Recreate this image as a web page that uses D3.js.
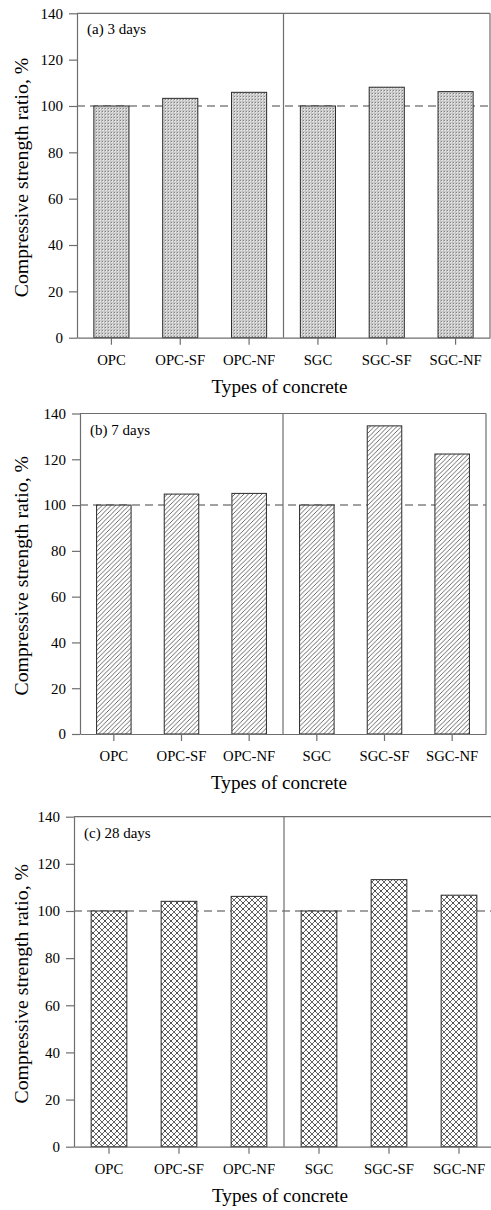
<!DOCTYPE html>
<html>
<head>
<meta charset="utf-8">
<script src="https://cdn.jsdelivr.net/npm/d3@7"></script>
<style>
  html, body { margin: 0; padding: 0; background: #fff; }
  svg { display: block; }
  text { font-family: "Liberation Serif", "Times New Roman", serif; fill: #000; }
</style>
</head>
<body>
<svg id="chart" width="491" height="1210"></svg>
<script>
// ---- data ----
const categories = ["OPC", "OPC-SF", "OPC-NF", "SGC", "SGC-SF", "SGC-NF"];
const ratio3d  = [100, 103.3, 105.9, 100, 108.1, 106.2];
const ratio7d  = [100, 104.8, 105.1, 100, 134.6, 122.3];
const ratio28d = [100, 104.1, 106.2, 100, 113.3, 106.7];
const yTicks = [0, 20, 40, 60, 80, 100, 120, 140];
const panelLabels = ["(a) 3 days", "(b) 7 days", "(c) 28 days"];
const referenceLine = 100;
const yMax = 140;

// ---- layout ----
const panels = [
  { values: ratio3d,  label: panelLabels[0], left: 77, right: 490, top: 13.3,  bottom: 337.7, pat: "patDots" },
  { values: ratio7d,  label: panelLabels[1], left: 80, right: 486, top: 413.5, bottom: 734,   pat: "patHatch" },
  { values: ratio28d, label: panelLabels[2], left: 74, right: 494, top: 816.7, bottom: 1146.7, pat: "patCross" }
];

const svg = d3.select("#chart");
const defs = svg.append("defs");

// stipple pattern (a)
const p1 = defs.append("pattern").attr("id", "patDots").attr("patternUnits", "userSpaceOnUse")
  .attr("width", 3).attr("height", 3);
p1.append("rect").attr("width", 3).attr("height", 3).attr("fill", "#e2e2e2");
p1.append("rect").attr("x", 0).attr("y", 0).attr("width", 1).attr("height", 1).attr("fill", "#808080");
p1.append("rect").attr("x", 2).attr("y", 0).attr("width", 1).attr("height", 3).attr("fill", "#bababa");
p1.append("rect").attr("x", 0).attr("y", 2).attr("width", 3).attr("height", 1).attr("fill", "#c8c8c8");

// diagonal hatch (b)
const p2 = defs.append("pattern").attr("id", "patHatch").attr("patternUnits", "userSpaceOnUse")
  .attr("width", 4.5).attr("height", 4.5);
p2.append("rect").attr("width", 4.5).attr("height", 4.5).attr("fill", "#fff");
p2.append("path").attr("d", "M0,4.5 L4.5,0 M-1,1 L1,-1 M3.5,5.5 L5.5,3.5")
  .attr("stroke", "#444").attr("stroke-width", 0.8);

// crosshatch (c)
const p3 = defs.append("pattern").attr("id", "patCross").attr("patternUnits", "userSpaceOnUse")
  .attr("width", 6).attr("height", 6);
p3.append("rect").attr("width", 6).attr("height", 6).attr("fill", "#fff");
p3.append("path").attr("d", "M0,6 L6,0 M-1,1 L1,-1 M5,7 L7,5 M0,0 L6,6 M-1,5 L1,7 M5,-1 L7,1")
  .attr("stroke", "#555").attr("stroke-width", 0.9);
p3.append("rect").attr("x", 2.5).attr("y", 2.5).attr("width", 1).attr("height", 1).attr("fill", "#111");

const frameColor = "#6e6e6e";

panels.forEach(p => {
  const g = svg.append("g");
  const x = d3.scaleBand().domain(categories).range([p.left, p.right])
    .paddingInner(0.49).paddingOuter(0.245);
  const y = d3.scaleLinear().domain([0, yMax]).range([p.bottom, p.top]);

  // dashed reference line (behind bars)
  g.append("line")
    .attr("x1", p.left).attr("x2", p.right)
    .attr("y1", y(referenceLine)).attr("y2", y(referenceLine))
    .attr("stroke", "#444").attr("stroke-width", 1.1)
    .attr("stroke-dasharray", "8,5");

  // bars
  g.selectAll("rect.bar").data(p.values).join("rect")
    .attr("class", "bar")
    .attr("x", (d, i) => x(categories[i]))
    .attr("width", x.bandwidth())
    .attr("y", d => y(d))
    .attr("height", d => y(0) - y(d))
    .attr("fill", `url(#${p.pat})`)
    .attr("stroke", "#2a2a2a").attr("stroke-width", 1);

  // divider between groups
  const divX = x(categories[3]) - x.step() * x.paddingInner() / 2;
  g.append("line")
    .attr("x1", divX).attr("x2", divX).attr("y1", p.top).attr("y2", p.bottom)
    .attr("stroke", frameColor).attr("stroke-width", 1.2);

  // frame (top, right)
  g.append("line").attr("x1", p.left).attr("x2", p.right).attr("y1", p.top).attr("y2", p.top)
    .attr("stroke", frameColor).attr("stroke-width", 1.2);
  g.append("line").attr("x1", p.right).attr("x2", p.right).attr("y1", p.top).attr("y2", p.bottom)
    .attr("stroke", frameColor).attr("stroke-width", 1.2);

  // y axis
  const ya = g.append("g").attr("transform", `translate(${p.left},0)`)
    .call(d3.axisLeft(y).tickValues(yTicks).tickSize(8).tickPadding(6).tickSizeOuter(0));
  ya.select(".domain").attr("stroke", frameColor).attr("stroke-width", 1.2);
  ya.selectAll(".tick line").attr("stroke", frameColor).attr("stroke-width", 1.2);
  ya.selectAll(".tick text").attr("font-size", 15).attr("font-family", "Liberation Serif").attr("fill", "#000");

  // x axis
  const xa = g.append("g").attr("transform", `translate(0,${p.bottom})`)
    .call(d3.axisBottom(x).tickSize(7).tickPadding(10).tickSizeOuter(0));
  xa.select(".domain").attr("stroke", frameColor).attr("stroke-width", 1.2);
  xa.selectAll(".tick line").attr("stroke", frameColor).attr("stroke-width", 1.2);
  xa.selectAll(".tick text").attr("font-size", 14.7).attr("font-family", "Liberation Serif").attr("fill", "#000");

  // axis titles
  g.append("text")
    .attr("x", (p.left + p.right) / 2 - 4).attr("y", p.bottom + 55)
    .attr("text-anchor", "middle").attr("font-size", 19.2)
    .text("Types of concrete");
  g.append("text")
    .attr("transform", `translate(28,${(p.top + p.bottom) / 2 + 2}) rotate(-90)`)
    .attr("text-anchor", "middle").attr("font-size", 19.8)
    .text("Compressive strength ratio, %");

  // panel label
  g.append("text")
    .attr("x", p.left + 10).attr("y", p.top + 21)
    .attr("font-size", 15).text(p.label);
});
</script>
</body>
</html>
